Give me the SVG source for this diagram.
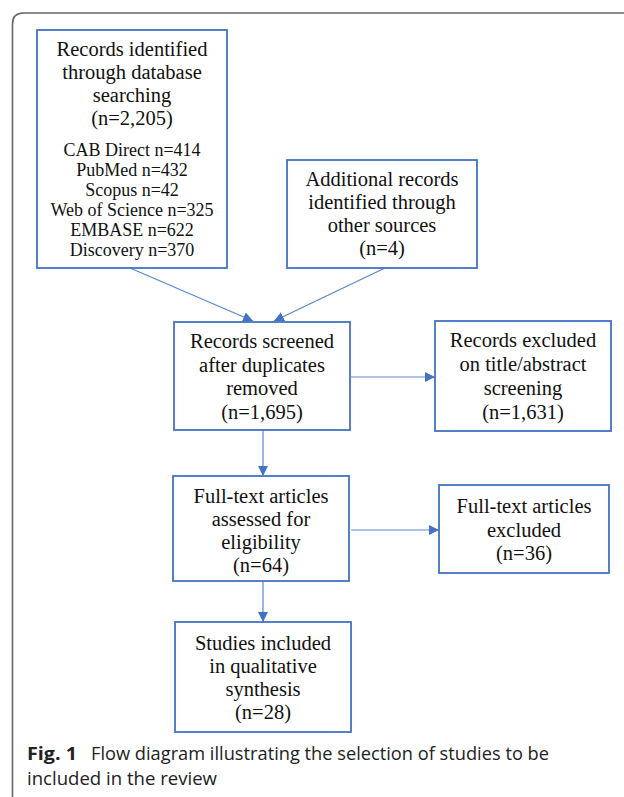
<svg xmlns="http://www.w3.org/2000/svg" width="624" height="797" viewBox="0 0 624 797">
<defs>
<style>
.box{fill:#fff;stroke:#4472C4;stroke-width:1.8}
.t{font-family:"Liberation Serif","Times New Roman",serif;font-size:20.5px;fill:#111;text-anchor:middle}
.s{font-family:"Liberation Serif","Times New Roman",serif;font-size:18px;fill:#111;text-anchor:middle}
.c{stroke:#5b85d0;stroke-width:1.2;fill:none;marker-end:url(#ah)}
.cap{font-family:"Open Sans","Noto Sans",sans-serif;font-size:18px;fill:#222}
</style>
<marker id="ah" markerUnits="userSpaceOnUse" markerWidth="10" markerHeight="10" refX="10" refY="5" orient="auto">
<path d="M0,0 L10,5 L0,10 z" fill="#4472C4"/>
</marker>
</defs>
<rect width="624" height="797" fill="#fff"/>
<path d="M12.5,797 V24 Q12.5,13 23.5,13 H624" fill="none" stroke="#666" stroke-width="1.6"/>

<g id="connectors">
<line class="c" x1="130" y1="268" x2="253" y2="321"/>
<line class="c" x1="385" y1="268" x2="274" y2="321"/>
<line class="c" x1="351" y1="377" x2="435" y2="377"/>
<line class="c" x1="263" y1="430" x2="263" y2="476"/>
<line class="c" x1="351" y1="530" x2="439" y2="530"/>
<line class="c" x1="263" y1="581" x2="263" y2="622"/>
</g>

<g id="n1">
<rect class="box" x="37" y="30" width="190" height="238"/>
<text class="t" x="132" y="56">Records identified</text>
<text class="t" x="132" y="79">through database</text>
<text class="t" x="132" y="102">searching</text>
<text class="t" x="132" y="125">(n=2,205)</text>
<text class="s" x="132" y="156">CAB Direct n=414</text>
<text class="s" x="132" y="176">PubMed n=432</text>
<text class="s" x="132" y="196">Scopus n=42</text>
<text class="s" x="132" y="216">Web of Science n=325</text>
<text class="s" x="132" y="236">EMBASE n=622</text>
<text class="s" x="132" y="256">Discovery n=370</text>
</g>

<g id="n2">
<rect class="box" x="287" y="160" width="190" height="108"/>
<text class="t" x="382" y="186">Additional records</text>
<text class="t" x="382" y="209">identified through</text>
<text class="t" x="382" y="232">other sources</text>
<text class="t" x="382" y="255">(n=4)</text>
</g>

<g id="n3">
<rect class="box" x="174" y="322" width="176" height="108"/>
<text class="t" x="262" y="348">Records screened</text>
<text class="t" x="262" y="371.5">after duplicates</text>
<text class="t" x="262" y="395">removed</text>
<text class="t" x="262" y="418.5">(n=1,695)</text>
</g>

<g id="n4">
<rect class="box" x="435" y="321" width="176" height="110"/>
<text class="t" x="523" y="347">Records excluded</text>
<text class="t" x="523" y="371">on title/abstract</text>
<text class="t" x="523" y="395">screening</text>
<text class="t" x="523" y="419">(n=1,631)</text>
</g>

<g id="n5">
<rect class="box" x="173" y="476" width="176" height="105"/>
<text class="t" x="261" y="503">Full-text articles</text>
<text class="t" x="261" y="526">assessed for</text>
<text class="t" x="261" y="549">eligibility</text>
<text class="t" x="261" y="572">(n=64)</text>
</g>

<g id="n6">
<rect class="box" x="439" y="485" width="170" height="88"/>
<text class="t" x="524" y="513">Full-text articles</text>
<text class="t" x="524" y="536.5">excluded</text>
<text class="t" x="524" y="560">(n=36)</text>
</g>

<g id="n7">
<rect class="box" x="175" y="622" width="176" height="110"/>
<text class="t" x="263" y="650">Studies included</text>
<text class="t" x="263" y="673">in qualitative</text>
<text class="t" x="263" y="696">synthesis</text>
<text class="t" x="263" y="719">(n=28)</text>
</g>

<g id="caption">
<text class="cap" x="27" y="760" font-weight="bold" textLength="50" lengthAdjust="spacingAndGlyphs">Fig. 1</text>
<text class="cap" x="91" y="760" textLength="458" lengthAdjust="spacingAndGlyphs">Flow diagram illustrating the selection of studies to be</text>
<text class="cap" x="27" y="785" textLength="190" lengthAdjust="spacingAndGlyphs">included in the review</text>
</g>
</svg>
